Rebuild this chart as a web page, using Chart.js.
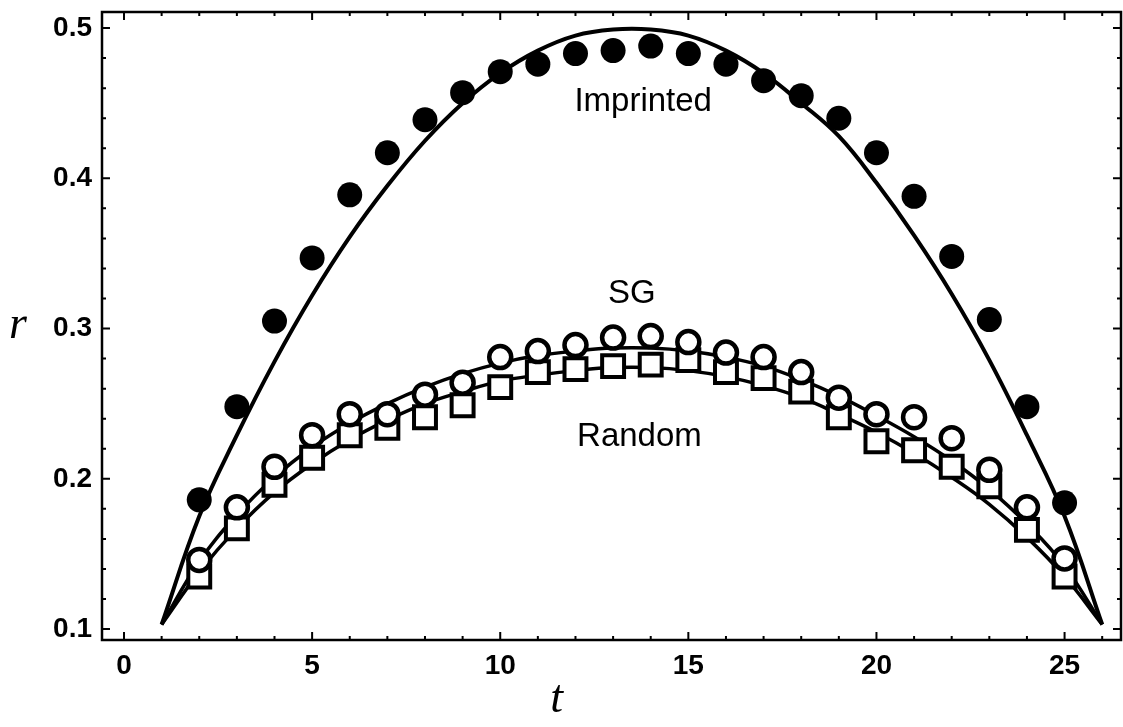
<!DOCTYPE html>
<html>
<head>
<meta charset="utf-8">
<script src="https://cdn.jsdelivr.net/npm/chart.js@4.4.1/dist/chart.umd.min.js"></script>
<style>
body{margin:0;background:#fff;}
</style>
</head>
<body>
<canvas id="chart" width="1123" height="727"></canvas>
<script>
// measured points, t = 2..25
const tData=[2,3,4,5,6,7,8,9,10,11,12,13,14,15,16,17,18,19,20,21,22,23,24,25];
const imprinted=[0.186,0.248,0.305,0.347,0.389,0.417,0.439,0.457,0.471,0.476,0.483,0.485,0.488,0.483,0.476,0.465,0.455,0.440,0.417,0.388,0.348,0.306,0.248,0.184];
const sg=[0.146,0.181,0.208,0.229,0.243,0.243,0.256,0.264,0.281,0.285,0.289,0.294,0.295,0.291,0.284,0.281,0.271,0.254,0.243,0.241,0.227,0.206,0.181,0.147];
const random=[0.135,0.167,0.196,0.214,0.229,0.234,0.241,0.249,0.261,0.271,0.273,0.275,0.276,0.279,0.271,0.267,0.258,0.241,0.225,0.219,0.208,0.195,0.166,0.135];

// fitted curves, t = 1..26
const tFit=[1,2,3,4,5,6,7,8,9,10,11,12,13,14,15,16,17,18,19,20,21,22,23,24,25,26];
const imprintedFit=[0.103,0.175,0.229,0.278,0.322,0.361,0.395,0.425,0.450,0.470,0.485,0.495,0.499,0.499,0.495,0.485,0.470,0.450,0.428,0.397,0.362,0.323,0.279,0.229,0.175,0.103];
const sgFit=[0.103,0.145,0.176,0.201,0.221,0.237,0.250,0.261,0.270,0.277,0.282,0.285,0.287,0.287,0.285,0.281,0.275,0.266,0.255,0.242,0.228,0.212,0.193,0.170,0.142,0.103];
const randomFit=[0.103,0.138,0.167,0.191,0.210,0.226,0.239,0.250,0.258,0.265,0.269,0.272,0.274,0.274,0.272,0.268,0.262,0.254,0.243,0.231,0.217,0.201,0.183,0.161,0.135,0.103];

const xTicks=[0,5,10,15,20,25];
const yTicks=[0.1,0.2,0.3,0.4,0.5];

// curve labels (data coords)
const labelText=["Imprinted","SG","Random"];
const labelT=[13.8,13.5,13.7];
const labelR=[0.451,0.323,0.228];

function pts(xs,ys){
    return xs.map((x,i)=>({x:x,y:ys[i]}));
}

function fitSet(data,w){
    return {data:data,showLine:true,pointRadius:0,borderColor:"#000",borderWidth:w,
        tension:0.4,fill:false,order:10};
}

const framePlugin={
    id:"frame",
    afterDatasetsDraw(chart){
        const ctx=chart.ctx;
        const a=chart.chartArea;
        const xs=chart.scales.x, ys=chart.scales.y;
        ctx.save();
        ctx.strokeStyle="#000";
        ctx.lineWidth=2.5;
        ctx.strokeRect(a.left,a.top,a.right-a.left,a.bottom-a.top);
        ctx.lineWidth=2;
        ctx.beginPath();
        // x ticks, minor every 1
        for(let v=0;v<=xs.max;v++){
            const px=xs.getPixelForValue(v);
            const len=(v%5===0)?8:4;
            ctx.moveTo(px,a.bottom);ctx.lineTo(px,a.bottom-len);
            ctx.moveTo(px,a.top);ctx.lineTo(px,a.top+len);
        }
        // y ticks, minor every 0.02
        for(let k=0;k<=20;k++){
            const v=0.1+k*0.02;
            const py=ys.getPixelForValue(v);
            const len=(k%5===0)?8:4;
            ctx.moveTo(a.left,py);ctx.lineTo(a.left+len,py);
            ctx.moveTo(a.right,py);ctx.lineTo(a.right-len,py);
        }
        ctx.stroke();

        ctx.fillStyle="#000";
        ctx.textAlign="center";
        ctx.textBaseline="middle";
        ctx.font="33px 'Liberation Sans', Arial, sans-serif";
        labelText.forEach((s,i)=>{
            ctx.fillText(s,xs.getPixelForValue(labelT[i]),ys.getPixelForValue(labelR[i]));
        });

        ctx.font="italic 46px 'Liberation Serif', 'Times New Roman', serif";
        ctx.fillText("r",18,(a.top+a.bottom)/2);
        ctx.fillText("t",xs.getPixelForValue(11.5),700);
        ctx.restore();
    }
};

const tickFont={family:"'Liberation Sans', Arial, sans-serif",size:28,weight:"bold",lineHeight:1};

const ctx=document.getElementById("chart").getContext("2d");
const chart=new Chart(ctx,{
    type:"scatter",
    data:{
        datasets:[
            fitSet(pts(tFit,imprintedFit),4),
            fitSet(pts(tFit,sgFit),3.5),
            fitSet(pts(tFit,randomFit),3.5),
            {data:pts(tData,random),pointStyle:"rect",pointRadius:15.5,pointBorderWidth:4,
                pointBorderColor:"#000",pointBackgroundColor:"#fff",order:3},
            {data:pts(tData,sg),pointStyle:"circle",pointRadius:11,pointBorderWidth:4.5,
                pointBorderColor:"#000",pointBackgroundColor:"#fff",order:2},
            {data:pts(tData,imprinted),pointStyle:"circle",pointRadius:12.5,pointBorderWidth:0,
                pointBorderColor:"#000",pointBackgroundColor:"#000",order:1}
        ]
    },
    options:{
        responsive:false,
        animation:false,
        layout:{autoPadding:false,padding:{top:12,right:2,left:0,bottom:0}},
        plugins:{legend:{display:false},tooltip:{enabled:false}},
        elements:{point:{hoverRadius:0}},
        scales:{
            x:{
                type:"linear",min:-0.585,max:26.5,
                afterBuildTicks:s=>{s.ticks=xTicks.map(v=>({value:v}));},
                afterFit:s=>{s.height=87;s.paddingLeft=0;s.paddingRight=0;},
                grid:{display:false,drawTicks:false},
                border:{display:false},
                ticks:{color:"#000",font:tickFont,padding:12,maxRotation:0,
                    callback:v=>String(v)}
            },
            y:{
                type:"linear",min:0.0927,max:0.5107,
                afterBuildTicks:s=>{s.ticks=yTicks.map(v=>({value:v}));},
                afterFit:s=>{s.width=102;s.paddingTop=0;s.paddingBottom=0;},
                grid:{display:false,drawTicks:false},
                border:{display:false},
                ticks:{color:"#000",font:tickFont,padding:10,
                    callback:v=>v.toFixed(1)}
            }
        }
    },
    plugins:[framePlugin]
});
</script>
</body>
</html>
